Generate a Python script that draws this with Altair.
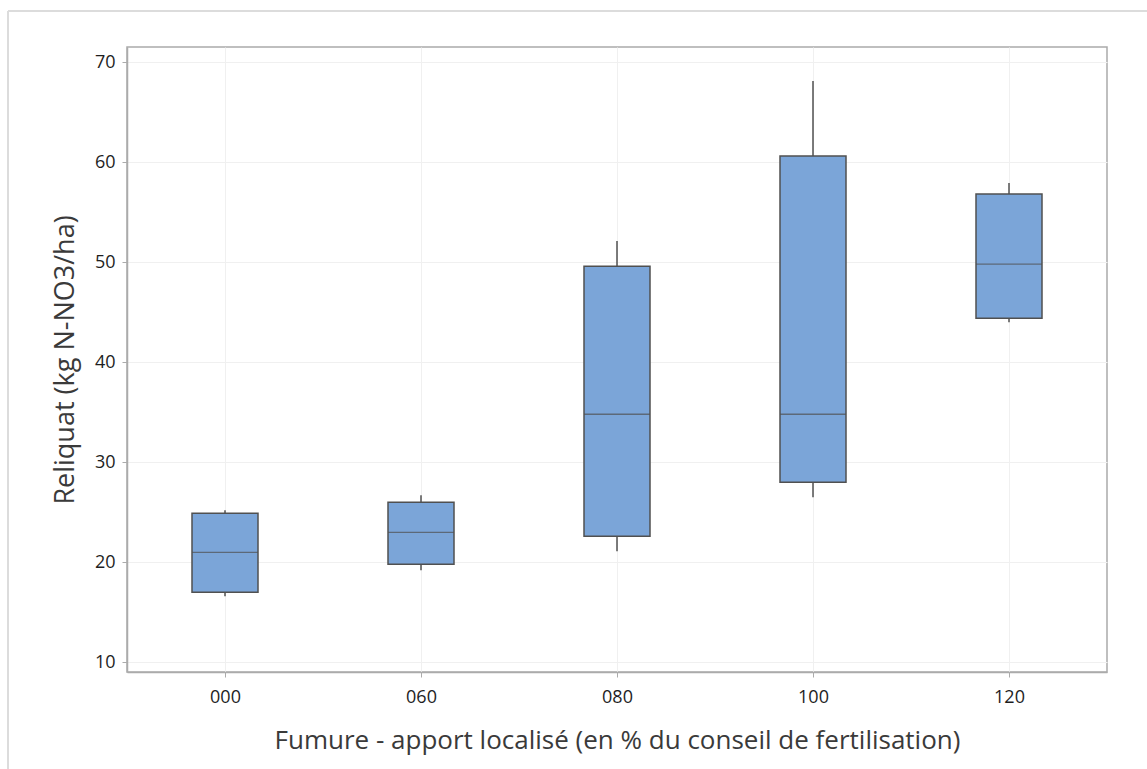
import altair as alt
import pandas as pd

# Nitrate residue per fertilisation level (box statistics)
groups = ["000", "060", "080", "100", "120"]
whisker_low = [16.6, 19.2, 21.1, 26.5, 44.0]
q1 = [17.0, 19.8, 22.6, 28.0, 44.4]
median = [21.0, 23.0, 34.8, 34.8, 49.8]
q3 = [24.9, 26.0, 49.6, 60.6, 56.8]
whisker_high = [25.2, 26.7, 52.1, 68.1, 57.9]

y_ticks = [10, 20, 30, 40, 50, 60, 70]

df = pd.DataFrame({
    "grp": groups,
    "lo": whisker_low,
    "q1": q1,
    "med": median,
    "q3": q3,
    "hi": whisker_high,
})

FONT = "Open Sans"
BOX_FILL = "#7ba5d8"
EDGE = "#505050"
FRAME = "#ababab"

x_title = "Fumure - apport localisé (en % du conseil de fertilisation)"
y_title = "Reliquat (kg N-NO3/ha)"

x_scale = alt.Scale(type="point", padding=0.5)
y_scale = alt.Scale(domain=[9.04, 71.5], nice=False, zero=False)
x_axis = alt.Axis(title=x_title, labelAngle=0)
y_axis = alt.Axis(values=y_ticks, title=y_title)

base = alt.Chart(df)

whiskers = base.mark_rule(color=EDGE, strokeWidth=1.5).encode(
    x=alt.X("grp:N", sort=groups, scale=x_scale, axis=x_axis),
    y=alt.Y("lo:Q", scale=y_scale, axis=y_axis),
    y2="hi:Q",
)

boxes = base.mark_bar(
    size=66, color=BOX_FILL, stroke=EDGE, strokeWidth=1.5
).encode(
    x=alt.X("grp:N", sort=groups, scale=x_scale, axis=x_axis),
    y=alt.Y("q1:Q", scale=y_scale, axis=y_axis),
    y2="q3:Q",
)

medians = base.mark_tick(
    size=66, thickness=1.3, color=EDGE, orient="horizontal"
).encode(
    x=alt.X("grp:N", sort=groups, scale=x_scale, axis=x_axis),
    y=alt.Y("med:Q", scale=y_scale, axis=y_axis),
)

# light page border (top and left edges of the surrounding frame)
frame_top = alt.Chart(pd.DataFrame({"k": [0]})).mark_rule(
    color="#dcdcdc", strokeWidth=2
).encode(x=alt.value(-119), x2=alt.value(1030), y=alt.value(-36))
frame_left = alt.Chart(pd.DataFrame({"k": [0]})).mark_rule(
    color="#dcdcdc", strokeWidth=2
).encode(x=alt.value(-119), y=alt.value(-36), y2=alt.value(760))

chart = (
    alt.layer(whiskers, boxes, medians, frame_top, frame_left)
    .properties(
        width=980,
        height=625,
        autosize=alt.AutoSizeParams(type="none"),
        padding={"left": 127, "top": 47, "right": 40, "bottom": 97},
        background="white",
    )
    .configure(font=FONT)
    .configure_axis(
        labelFont=FONT,
        titleFont=FONT,
        labelFontSize=18,
        labelFontWeight=500,
        labelColor="#1e1e1e",
        titleFontWeight="normal",
        titleColor="#3a3a3a",
        tickSize=5,
        tickColor=FRAME,
        domainColor=FRAME,
        domainWidth=1.5,
        grid=True,
        gridColor="#f0f0f0",
    )
    .configure_axisX(labelPadding=11, titlePadding=21, titleFontSize=26)
    .configure_axisY(labelPadding=7, titlePadding=15, titleFontSize=27)
    .configure_view(stroke=FRAME, strokeWidth=1.5)
)

chart.save("out.html", embed_options={"renderer": "svg", "actions": False})
